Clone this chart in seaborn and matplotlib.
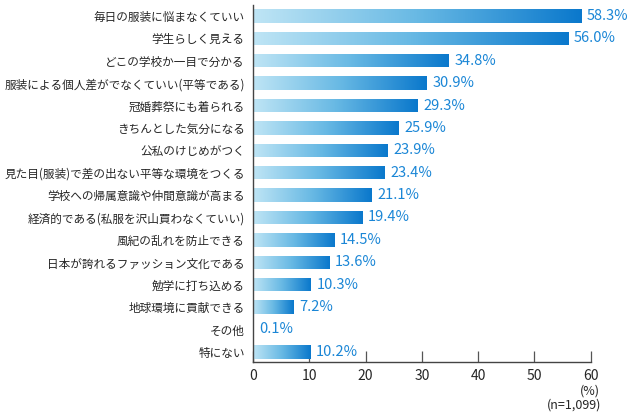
import numpy as np
import pandas as pd
import matplotlib
matplotlib.use('Agg')
import matplotlib.pyplot as plt
from matplotlib.colors import LinearSegmentedColormap
import seaborn as sns

items = ['毎日の服装に悩まなくていい', '学生らしく見える', 'どこの学校か一目で分かる',
         '服装による個人差がでなくていい(平等である)', '冠婚葬祭にも着られる',
         'きちんとした気分になる', '公私のけじめがつく',
         '見た目(服装)で差の出ない平等な環境をつくる', '学校への帰属意識や仲間意識が高まる',
         '経済的である(私服を沢山買わなくていい)', '風紀の乱れを防止できる',
         '日本が誇れるファッション文化である', '勉学に打ち込める', '地球環境に貢献できる',
         'その他', '特にない']
values = [58.3, 56.0, 34.8, 30.9, 29.3, 25.9, 23.9, 23.4, 21.1, 19.4, 14.5, 13.6, 10.3, 7.2, 0.1, 10.2]
x_ticks = [0, 10, 20, 30, 40, 50, 60]

df = pd.DataFrame({'item': items, 'value': values})

sns.set_theme(style='white')
plt.rcParams['font.family'] = ['Noto Sans CJK JP', 'DejaVu Sans']

fig = plt.figure(figsize=(6.31, 4.16), dpi=100)
ax = fig.add_axes([0.401, 0.130, 0.535, 0.858])

sns.barplot(data=df, x='value', y='item', orient='h', width=0.6, color='#0a7cd0', ax=ax)

# gradient fill, light on the left to dark blue at the end of each bar
cmap = LinearSegmentedColormap.from_list('grad', ['#bfe5f5', '#68b9e4', '#0a78cc'])
grad = np.linspace(0, 1, 256).reshape(1, -1)
for bar in ax.patches:
    x0, y0 = bar.get_x(), bar.get_y()
    w, h = bar.get_width(), bar.get_height()
    if w <= 0:
        continue
    im = ax.imshow(grad, cmap=cmap, aspect='auto', extent=(x0, x0 + w, y0 + h, y0),
                   zorder=2, interpolation='bilinear')
    im.set_clip_path(bar)
    bar.set_facecolor('none')
    bar.set_edgecolor('none')

for i, v in enumerate(values):
    ax.annotate(f'{v:.1f}%', (v, i), xytext=(4, 0), textcoords='offset points',
                va='center', ha='left', fontsize=10.5, color='#1a86d6')

ax.set_xlim(0, 60)
ax.set_ylim(len(items) - 0.55, -0.49)
ax.set_xticks(x_ticks)
ax.set_xlabel('')
ax.set_ylabel('')
ax.tick_params(axis='x', direction='in', length=8, width=0.9, color='#555555',
               labelsize=10, pad=5, bottom=True)
ax.tick_params(axis='y', length=0, labelsize=8.4, pad=6)
for s in ['top', 'right']:
    ax.spines[s].set_visible(False)
for s in ['left', 'bottom']:
    ax.spines[s].set_color('#444444')
    ax.spines[s].set_linewidth(1.0)

fig.text(590 / 631, 1 - 391 / 416, '(%)', ha='center', va='center', fontsize=9)
fig.text(601 / 631, 1 - 405 / 416, '(n=1,099)', ha='right', va='center', fontsize=9)

plt.savefig('out.png', dpi=100)
